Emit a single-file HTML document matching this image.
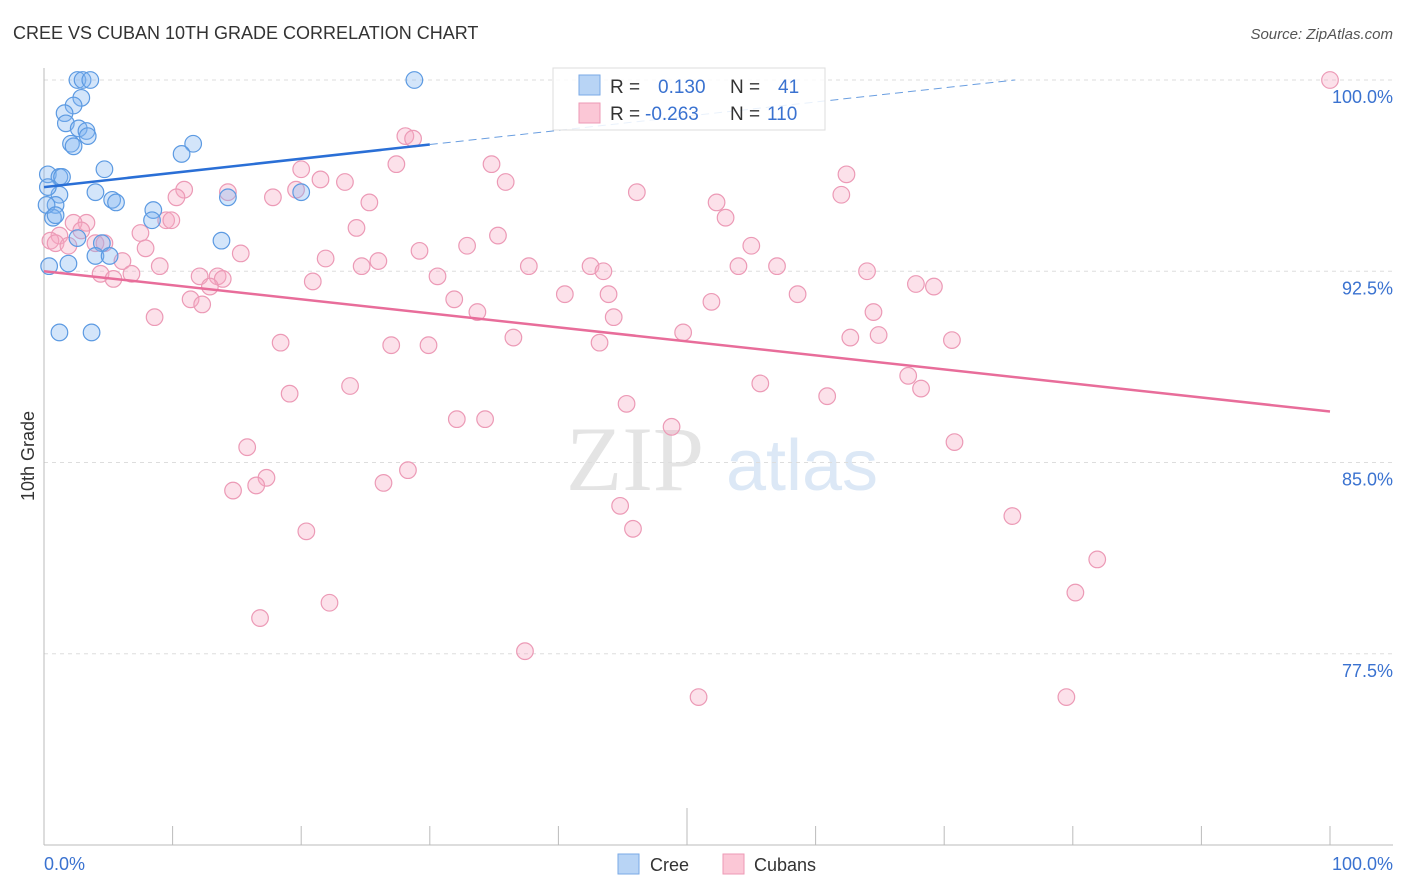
<!DOCTYPE html>
<html><head><meta charset="utf-8"><style>
body{margin:0;background:#fff;font-family:"Liberation Sans",sans-serif;}
svg{display:block}
</style></head><body>
<svg id="chart" width="1406" height="892" xmlns="http://www.w3.org/2000/svg">
<text x="13" y="39" font-size="18" fill="#333">CREE VS CUBAN 10TH GRADE CORRELATION CHART</text>
<text x="1393" y="39" font-size="15" fill="#555" text-anchor="end" font-style="italic">Source: ZipAtlas.com</text>
<g>
<text x="635" y="490" font-size="92" fill="#e4e4e4" text-anchor="middle" font-family="Liberation Serif,serif">ZIP</text>
<text x="802" y="490" font-size="72" fill="#dce8f6" text-anchor="middle">atlas</text>
</g>
<g id="grid"></g>
<g id="axes"></g>
<g id="marks"></g>
<text transform="translate(34,456) rotate(-90)" font-size="18" fill="#333" text-anchor="middle">10th Grade</text>
<g>
<rect x="553" y="68" width="272" height="62" fill="rgba(255,255,255,0.85)" stroke="#ddd"/>
<rect x="579" y="75" width="21" height="20" fill="#b8d4f5" stroke="#7aaae6"/>
<rect x="579" y="103" width="21" height="20" fill="#fbc7d6" stroke="#ee9ab5"/>
<text x="610" y="93" font-size="19" fill="#333">R = </text>
<text x="658" y="93" font-size="19" fill="#3a72d0">0.130</text>
<text x="730" y="93" font-size="19" fill="#333">N = </text>
<text x="778" y="93" font-size="19" fill="#3a72d0">41</text>
<text x="610" y="120" font-size="19" fill="#333">R = </text>
<text x="645" y="120" font-size="19" fill="#3a72d0">-0.263</text>
<text x="730" y="120" font-size="19" fill="#333">N = </text>
<text x="767" y="120" font-size="19" fill="#3a72d0">110</text>
</g>
<g>
<rect x="618" y="854" width="21" height="20" fill="#b8d4f5" stroke="#7aaae6"/>
<text x="650" y="871" font-size="18" fill="#333">Cree</text>
<rect x="723" y="854" width="21" height="20" fill="#fbc7d6" stroke="#ee9ab5"/>
<text x="754" y="871" font-size="18" fill="#333">Cubans</text>
</g>
</svg>
<script>
const yTicks=[100,92.5,85,77.5];
const yTickLabels=["100.0%","92.5%","85.0%","77.5%"];
const xTicks=[0,10,20,30,40,50,60,70,80,90,100];
const creeX=[2.6,3.0,3.6,28.8,2.9,2.3,1.6,1.7,2.7,3.3,3.4,2.1,2.3,11.6,10.7,0.3,1.2,4.7,4.0,1.2,5.3,5.6,8.5,0.9,0.7,8.4,20.0,14.3,2.6,4.5,13.8,4.0,5.1,0.4,1.9,1.2,3.7,0.3,0.2,0.9,1.4];
const creeY=[100,100,100,100,99.3,99.0,98.7,98.3,98.1,98.0,97.8,97.5,97.4,97.5,97.1,96.3,96.2,96.5,95.6,95.5,95.3,95.2,94.9,95.1,94.6,94.5,95.6,95.4,93.8,93.6,93.7,93.1,93.1,92.7,92.8,90.1,90.1,95.8,95.1,94.7,96.2];
const cubanX=[100,28.1,28.7,27.4,34.8,20.0,21.5,23.4,35.9,10.9,19.6,17.8,10.3,14.3,46.1,25.3,52.3,53.0,62.0,62.4,24.3,35.3,7.5,9.5,9.9,3.3,2.3,1.2,0.5,0.9,1.9,2.9,4.0,4.7,7.9,15.3,29.2,32.9,55.0,21.9,26.0,24.7,37.7,42.5,43.5,30.6,9.0,6.1,6.8,4.4,5.4,12.1,13.5,13.9,12.9,20.9,57.0,54.0,64.0,67.8,69.2,40.5,31.9,43.9,11.4,12.3,51.9,58.6,33.7,44.3,8.6,64.5,49.7,36.5,43.2,18.4,27.0,29.9,62.7,64.9,70.6,23.8,19.1,55.7,60.9,67.2,68.2,45.3,32.1,34.3,48.8,15.8,70.8,28.3,17.3,16.5,26.4,14.7,44.8,75.3,45.8,20.4,81.9,80.2,22.2,16.8,37.4,50.9,79.5];
const cubanY=[100,97.8,97.7,96.7,96.7,96.5,96.1,96.0,96.0,95.7,95.7,95.4,95.4,95.6,95.6,95.2,95.2,94.6,95.5,96.3,94.2,93.9,94.0,94.5,94.5,94.4,94.4,93.9,93.7,93.6,93.5,94.1,93.6,93.6,93.4,93.2,93.3,93.5,93.5,93.0,92.9,92.7,92.7,92.7,92.5,92.3,92.7,92.9,92.4,92.4,92.2,92.3,92.3,92.2,91.9,92.1,92.7,92.7,92.5,92.0,91.9,91.6,91.4,91.6,91.4,91.2,91.3,91.6,90.9,90.7,90.7,90.9,90.1,89.9,89.7,89.7,89.6,89.6,89.9,90.0,89.8,88.0,87.7,88.1,87.6,88.4,87.9,87.3,86.7,86.7,86.4,85.6,85.8,84.7,84.4,84.1,84.2,83.9,83.3,82.9,82.4,82.3,81.2,79.9,79.5,78.9,77.6,75.8,75.8];
const creeTrend=[95.8,100.0];
const cubanTrend=[92.5,87.0];

const X=v=>44+v*12.86;
const Y=v=>80+(100-v)*25.5;
const NS="http://www.w3.org/2000/svg";
function mk(tag,attrs,parent){const e=document.createElementNS(NS,tag);for(const k in attrs)e.setAttribute(k,attrs[k]);parent.appendChild(e);return e;}
const grid=document.getElementById('grid'),axes=document.getElementById('axes'),marks=document.getElementById('marks');
yTicks.forEach((t,i)=>{
 const l=mk('line',{x1:44,x2:1393,y1:Y(t),y2:Y(t),stroke:'#ddd','stroke-dasharray':'4,4'},grid);
 
 
 const tx=mk('text',{x:1393,y:Y(t)+23,'font-size':18,fill:'#3a72d0','text-anchor':'end'},axes);
 tx.textContent=yTickLabels[i];
 
 
});
let a=mk('line',{x1:44,x2:44,y1:68,y2:845,stroke:'#bbb'},axes);


a=mk('line',{x1:44,x2:1393,y1:845,y2:845,stroke:'#bbb'},axes);


xTicks.forEach(t=>{
 const tk=mk('line',{x1:X(t),x2:X(t),y1:t==50?808:826,y2:845,stroke:'#bbb'},axes);
 
 
});
let xl=mk('text',{x:44,y:870,'font-size':18,fill:'#3a72d0'},axes);xl.textContent='0.0%';


xl=mk('text',{x:1393,y:870,'font-size':18,fill:'#3a72d0','text-anchor':'end'},axes);xl.textContent='100.0%';



cubanX.forEach((v,i)=>{
 const c=mk('circle',{cx:X(v),cy:Y(cubanY[i]),r:8.3,fill:'rgba(246,170,195,0.35)',stroke:'#ec9ab6','stroke-width':1.2},marks);
 
 
});
creeX.forEach((v,i)=>{
 const c=mk('circle',{cx:X(v),cy:Y(creeY[i]),r:8.3,fill:'rgba(130,180,240,0.35)',stroke:'#5c9ae2','stroke-width':1.2},marks);
 
 
});
const xEnd=75.5, yAt=x=>creeTrend[0]+(creeTrend[1]-creeTrend[0])*x/xEnd;
let t=mk('line',{x1:X(0),y1:Y(yAt(0)),x2:X(30),y2:Y(yAt(30)),stroke:'#2a6fd6','stroke-width':2.5},marks);


t=mk('line',{x1:X(30),y1:Y(yAt(30)),x2:X(xEnd),y2:Y(yAt(xEnd)),stroke:'#6a9ee0','stroke-width':1,'stroke-dasharray':'8,5'},marks);


t=mk('line',{x1:X(0),y1:Y(cubanTrend[0]),x2:X(100),y2:Y(cubanTrend[1]),stroke:'#e86d9a','stroke-width':2.5},marks);


</script>
</body></html>
